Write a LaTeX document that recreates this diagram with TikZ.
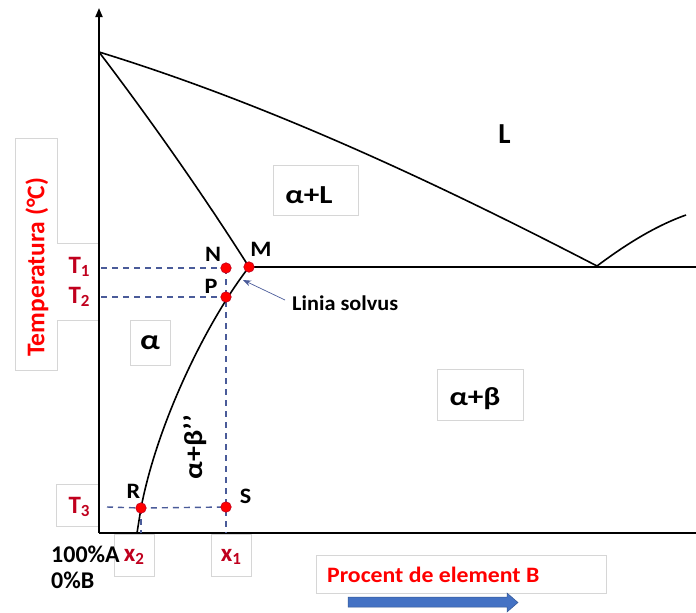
\documentclass[tikz,border=0pt]{standalone}
\usepackage{fontspec}
\usepackage{graphicx}
\setmainfont{Carlito}
\usetikzlibrary{arrows.meta}
\definecolor{dred}{HTML}{C0001E}
\definecolor{brred}{HTML}{FF0000}
\definecolor{dashc}{HTML}{4A5B99}
\definecolor{boxgray}{HTML}{D6D6D6}
\definecolor{arrblue}{HTML}{4472C4}
\tikzset{
  curve/.style={line width=1.6pt,black},
  guide/.style={dashc,line width=1.4pt,dash pattern=on 6pt off 5pt},
  dot/.style={circle,fill=red,draw=dred,line width=0.6pt,inner sep=0pt,minimum size=10.5pt},
  lbl/.style={font=\fontsize{22}{22}\selectfont\bfseries,text=black,inner sep=0pt},
  phase/.style={font=\fontsize{26}{26}\selectfont\bfseries,text=black,inner sep=0pt},
  tbox/.style={draw=boxgray,fill=white,line width=0.8pt},
  tlab/.style={font=\fontsize{25}{25}\selectfont\bfseries,text=dred,inner sep=0pt},
  blockarrow/.style={fill=arrblue,draw=arrblue!75!black,line width=0.5pt}
}
\newcommand{\subb}[1]{\raisebox{-0.3ex}{\fontsize{17}{17}\selectfont #1}}
\newcommand{\wide}[2]{\scalebox{#1}[1]{#2}}
\begin{document}
\begin{tikzpicture}[x=1pt,y=-1pt]
\useasboundingbox (0,0) rectangle (696,613);
% coordinates
\coordinate (O) at (99,533);
\coordinate (Top) at (99,8);
\coordinate (Xend) at (696,533);
\coordinate (A) at (99,52);
\coordinate (E) at (597,266);
\coordinate (Rend) at (686,215);
\coordinate (Eright) at (696,267);
\coordinate (Bot) at (137,533);
% label boxes
\draw[tbox] (57,138) -- (15,138) -- (15,370) -- (57,370) -- (57,320) -- (98,320) -- (98,243) -- (57,243) -- cycle;
\node[rotate=90,font=\fontsize{25.5}{25.5}\selectfont\bfseries,text=brred,inner sep=0pt] (temp) at (37,267) {Temperatura (°C)};
\node[tlab] (T1) at (79,267) {T\subb{1}};
\node[tlab] (T2) at (79,297) {T\subb{2}};
\node[tbox,minimum width=42pt,minimum height=42pt] (T3box) at (77,505) {};
\node[tlab] (T3) at (79,507) {T\subb{3}};
\node[tbox,minimum width=40pt,minimum height=42pt] (x2box) at (134,555) {};
\node[tlab] (x2) at (134,557) {x\subb{2}};
\node[tbox,minimum width=40pt,minimum height=42pt] (x1box) at (231,555) {};
\node[tlab] (x1) at (231,557) {x\subb{1}};
\node[tbox,minimum width=290pt,minimum height=38pt] (pbox) at (461,574) {};
\node[font=\fontsize{22}{22}\selectfont\bfseries,text=brred,anchor=base west,inner sep=0pt] (proc) at (327,582) {\wide{1.08}{Procent de element B}};
% block arrow
\draw[blockarrow] (348,597) -- (507,597) -- (507,593) -- (518,602.5) -- (507,612) -- (507,607) -- (348,607) -- cycle;
% axes
\draw[line width=1.8pt,-{Triangle[length=9pt,width=7pt]}] (O) -- (Top);
\draw[line width=1.8pt] (O) -- (Xend);
% point coordinates
\coordinate (N) at (226,268);
\coordinate (M) at (249,267);
\coordinate (P) at (226,297);
\coordinate (R) at (141,508);
\coordinate (S) at (226,507);
\coordinate (x1top) at (226,533);
\coordinate (x2top) at (141,533);
\coordinate (t1s) at (101,268);
\coordinate (t2s) at (101,297);
\coordinate (t3s) at (107,507);
% dashed guides
\draw[guide] (t1s) -- (N);
\draw[guide] (t2s) -- (P);
\draw[guide] (N) -- (P) -- (x1top);
\draw[guide] (t3s) -- (R) -- (S);
\draw[guide] (R) -- (x2top);
% curves
\draw[curve] (A) .. controls (265,103) and (431,180) .. (E);
\draw[curve] (E) .. controls (625,245) and (655,226) .. (Rend);
\draw[curve] (M) -- (Eright);
\draw[curve] (A) .. controls (153,123) and (206,199) .. (M);
\draw[curve] (M) .. controls (208,320) and (158,420) .. (R) -- (Bot);
% dots
\node[dot] (Nd) at (N) {};
\node[dot] (Md) at (M) {};
\node[dot] (Pd) at (P) {};
\node[dot] (Rd) at (R) {};
\node[dot] (Sd) at (S) {};
% point labels
\node[lbl] (Nl) at (213,254) {\wide{1.1}{N}};
\node[lbl] (Ml) at (261,249) {\wide{1.1}{M}};
\node[lbl] (Pl) at (211,286) {\wide{1.1}{P}};
\node[lbl] (Rl) at (133.5,491.5) {\wide{1.1}{R}};
\node[lbl] (Sl) at (245.5,496.5) {\wide{1.1}{S}};
\node[font=\fontsize{21}{21}\selectfont\bfseries,anchor=base west,inner sep=0pt] (sol) at (292,310) {\wide{1.06}{Linia solvus}};
\coordinate (solTail) at (285,300);
\coordinate (solTip) at (243,280);
\draw[dashc,line width=0.7pt,-{Stealth[length=8pt,width=6pt]}] (solTail) -- (solTip);
% phase labels
\node[phase,font=\fontsize{29}{29}\selectfont\bfseries] (Ll) at (504.5,134.5) {L};
\node[tbox,minimum width=85pt,minimum height=50pt] (aLbox) at (315.5,190) {};
\node[phase] (aL) at (309,195) {\wide{1.2}{α+L}};
\node[tbox,minimum width=40pt,minimum height=45pt] (albox) at (150,342.5) {};
\node[phase,font=\fontsize{28}{28}\selectfont\bfseries] (al) at (150,343) {\wide{1.2}{α}};
\node[tbox,minimum width=86pt,minimum height=51pt] (abbox) at (480,394.5) {};
\node[phase] (ab) at (475,399) {\wide{1.2}{α+β}};
\node[phase,rotate=90] (ab2) at (195,447) {\wide{1.15}{α+β’’}};
% composition labels
\node[font=\fontsize{24}{24}\selectfont\bfseries,anchor=base west,inner sep=0pt] (A100) at (51,562) {100\%A};
\node[font=\fontsize{24}{24}\selectfont\bfseries,anchor=base west,inner sep=0pt] (B0) at (51,588) {0\%B};
\end{tikzpicture}
\end{document}
